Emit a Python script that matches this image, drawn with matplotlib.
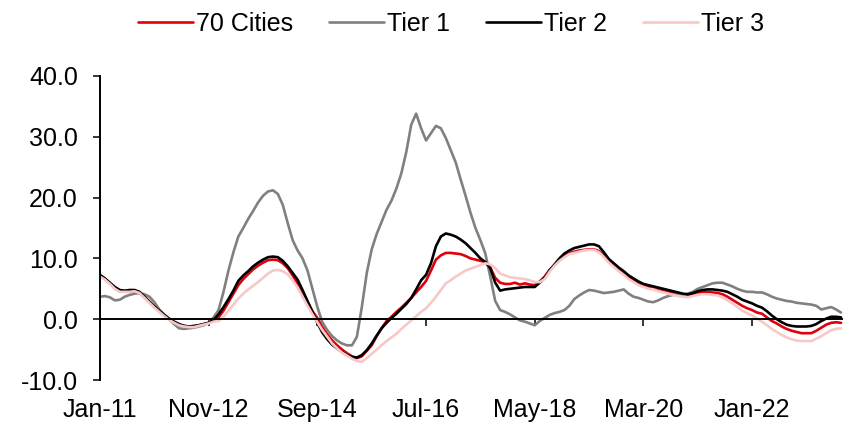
import numpy as np
import pandas as pd
import matplotlib
matplotlib.use("Agg")
import matplotlib.pyplot as plt

plt.rcParams['font.family'] = ['Liberation Sans', 'DejaVu Sans']

# monthly readings, Jan-11 .. Jul-23
dates = pd.date_range('2011-01-01', periods=151, freq='MS')

cities70 = [
    7.2, 6.6, 5.9, 5.2, 4.7, 4.6, 4.6, 4.6, 4.3, 3.6, 2.8, 2.0,
    1.3, 0.6, 0.0, -0.5, -0.9, -1.1, -1.2, -1.2, -1.0, -0.8, -0.6, -0.2,
    0.3, 1.4, 2.8, 4.2, 5.6, 6.6, 7.4, 8.2, 8.8, 9.3, 9.7, 9.8,
    9.7, 9.2, 8.4, 7.2, 5.8, 4.4, 2.8, 1.3, 0.2, -1.3, -2.5, -3.5,
    -4.3, -5.0, -5.6, -6.1, -6.4, -6.1, -5.2, -4.3, -2.8, -1.5, -0.3, 0.4,
    1.2, 1.9, 2.7, 3.5, 4.4, 5.3, 6.3, 8.0, 9.8, 10.5, 10.9, 10.9,
    10.8, 10.7, 10.4, 10.0, 9.8, 9.6, 9.4, 8.5, 6.8, 6.0, 5.8, 5.8,
    6.0, 5.7, 5.9, 5.7, 5.6, 6.2, 7.0, 8.1, 8.9, 9.7, 10.5, 10.9,
    11.1, 11.3, 11.4, 11.5, 11.5, 11.2, 10.5, 9.6, 8.9, 8.2, 7.6, 7.0,
    6.5, 6.0, 5.6, 5.4, 5.2, 5.0, 4.8, 4.6, 4.3, 4.1, 3.9, 3.8,
    4.0, 4.3, 4.4, 4.5, 4.4, 4.3, 4.1, 3.7, 3.2, 2.7, 2.2, 1.8,
    1.5, 1.1, 0.9, 0.3, -0.3, -0.7, -1.2, -1.6, -1.9, -2.1, -2.3, -2.3,
    -2.3, -1.9, -1.4, -0.9, -0.6, -0.5, -0.6,
]

tier1 = [
    3.7, 3.8, 3.6, 3.1, 3.2, 3.7, 4.0, 4.2, 4.3, 4.1, 3.7, 2.8,
    1.6, 0.8, 0.0, -0.8, -1.5, -1.6, -1.5, -1.4, -1.2, -1.0, -0.6, 0.3,
    1.5, 4.5, 8.0, 11.0, 13.6, 15.0, 16.5, 17.8, 19.2, 20.3, 21.0, 21.2,
    20.6, 18.8, 15.8, 13.0, 11.3, 10.0, 8.0, 5.0, 2.0, -0.5, -1.8, -2.8,
    -3.5, -4.0, -4.3, -4.3, -2.9, 2.0, 7.6, 11.5, 14.0, 16.0, 18.0, 19.5,
    21.5, 24.0, 27.5, 32.0, 33.8, 31.4, 29.4, 30.6, 31.8, 31.4, 29.8, 27.8,
    25.8, 23.0, 20.3, 17.5, 15.0, 13.0, 10.8, 7.0, 3.0, 1.5, 1.2, 0.8,
    0.3, -0.2, -0.4, -0.7, -1.0, -0.3, 0.2, 0.7, 1.0, 1.2, 1.5, 2.2,
    3.3, 3.9, 4.4, 4.8, 4.7, 4.5, 4.3, 4.4, 4.5, 4.7, 4.9, 4.2,
    3.7, 3.5, 3.2, 2.9, 2.8, 3.1, 3.5, 3.8, 4.0, 4.0, 4.0, 4.2,
    4.5, 5.0, 5.3, 5.6, 5.9, 6.0, 6.0, 5.7, 5.4, 5.0, 4.7, 4.5,
    4.5, 4.4, 4.4, 4.1, 3.7, 3.4, 3.2, 3.0, 2.9, 2.7, 2.6, 2.5,
    2.4, 2.2, 1.6, 1.8, 2.0, 1.6, 1.1,
]

tier2 = [
    7.3, 6.7, 6.0, 5.3, 4.8, 4.7, 4.8, 4.8, 4.5, 3.7, 2.9, 2.1,
    1.4, 0.7, 0.1, -0.4, -0.8, -1.1, -1.2, -1.1, -1.0, -0.8, -0.6, -0.1,
    0.8, 2.0, 3.3, 4.7, 6.3, 7.2, 7.9, 8.7, 9.3, 9.8, 10.2, 10.3,
    10.2, 9.6, 8.7, 7.6, 6.5, 4.8, 3.0, 1.2, -0.6, -2.2, -3.3, -4.2,
    -4.8, -5.4, -5.9, -6.2, -6.3, -5.9, -5.1, -4.0, -2.7, -1.5, -0.6, 0.2,
    0.9, 1.7, 2.5, 3.5, 4.9, 6.4, 7.3, 9.2, 12.0, 13.6, 14.1, 13.9,
    13.6, 13.1, 12.5, 11.7, 10.9, 10.0, 9.4, 8.4, 6.0, 4.7, 4.9, 5.0,
    5.1, 5.2, 5.3, 5.3, 5.3, 6.0, 6.8, 8.0, 9.0, 10.0, 10.8, 11.3,
    11.7, 11.9, 12.1, 12.3, 12.3, 12.0, 11.0, 9.9, 9.2, 8.5, 7.9, 7.2,
    6.7, 6.2, 5.8, 5.6, 5.4, 5.2, 5.0, 4.8, 4.6, 4.4, 4.2, 4.1,
    4.3, 4.6, 4.8, 4.9, 4.9, 4.8, 4.7, 4.5, 4.1, 3.7, 3.2, 2.9,
    2.6, 2.2, 1.9, 1.3, 0.6, 0.0, -0.5, -0.9, -1.1, -1.2, -1.2, -1.2,
    -1.1, -0.8, -0.3, 0.1, 0.4, 0.4, 0.3,
]

tier3 = [
    7.0, 6.5, 5.8, 5.0, 4.5, 4.5, 4.5, 4.6, 4.3, 3.5, 2.7, 1.9,
    1.2, 0.5, -0.1, -0.6, -1.0, -1.2, -1.3, -1.3, -1.1, -0.9, -0.7, -0.4,
    -0.3, 0.4, 1.4, 2.4, 3.4, 4.2, 4.9, 5.5, 6.1, 6.8, 7.5, 8.0,
    8.1, 7.9, 7.4, 6.4, 5.2, 3.7, 2.2, 0.8, -0.5, -1.8, -2.9, -4.0,
    -4.8, -5.5, -6.0, -6.5, -6.9, -7.0, -6.4, -5.7, -5.0, -4.3, -3.6, -3.0,
    -2.4, -1.6, -0.9, -0.2, 0.5, 1.2, 1.8, 2.7, 3.7, 4.8, 5.9, 6.4,
    7.0, 7.5, 8.0, 8.3, 8.6, 8.9, 9.2, 9.0, 8.4, 7.5, 7.2, 6.9,
    6.8, 6.7, 6.6, 6.4, 6.1, 6.1, 6.6, 7.8, 8.8, 9.6, 10.2, 10.7,
    10.9, 11.1, 11.3, 11.4, 11.4, 11.0, 10.2, 9.3, 8.6, 7.9, 7.3, 6.6,
    6.1, 5.6, 5.3, 5.0, 4.9, 4.6, 4.4, 4.2, 4.0, 3.8, 3.7, 3.6,
    3.8, 4.0, 4.1, 4.1, 4.0, 3.9, 3.6, 3.1, 2.6, 2.0, 1.4, 1.0,
    0.6, 0.1, -0.4, -1.0, -1.6, -2.1, -2.6, -3.0, -3.3, -3.5, -3.6, -3.6,
    -3.6, -3.2, -2.8, -2.3, -1.8, -1.6, -1.5,
]

series = [
    ("70 Cities", cities70, "#E0000B"),
    ("Tier 1", tier1, "#808080"),
    ("Tier 2", tier2, "#000000"),
    ("Tier 3", tier3, "#F6C8C8"),
]

fig = plt.figure(figsize=(8.43, 4.23), dpi=100)
ax = fig.add_axes([100 / 843, 1 - 380 / 423, 743 / 843, 304 / 423])

x = np.arange(len(dates))
for name, vals, col in series:
    ax.plot(x, vals, color=col, lw=1.9, label=name, solid_capstyle='round')

ax.set_xlim(0, len(dates) - 0.6)
ax.set_ylim(-10, 40)
ax.set_yticks(np.arange(-10, 41, 10))
ax.set_yticklabels([f"{v:.1f}" for v in np.arange(-10, 41, 10)])

tick_idx = x[::22]
ax.set_xticks(tick_idx)
ax.set_xticklabels(dates[tick_idx].strftime('%b-%y'))

ax.spines['top'].set_visible(False)
ax.spines['right'].set_visible(False)
ax.spines['bottom'].set_position(('data', 0))
ax.spines['bottom'].set_linewidth(1.4)
ax.spines['left'].set_linewidth(1.4)

ax.tick_params(axis='y', direction='out', length=5, width=1.1, pad=11, labelsize=18)
ax.tick_params(axis='x', direction='out', length=5, width=1.1, pad=52, labelsize=18)

fig.legend(loc='center', bbox_to_anchor=(451 / 843, 1 - 24 / 423), ncol=4,
           frameon=False, fontsize=18, handlelength=2.2, handletextpad=0.12,
           columnspacing=1.45)

fig.savefig("out.png", dpi=100)
